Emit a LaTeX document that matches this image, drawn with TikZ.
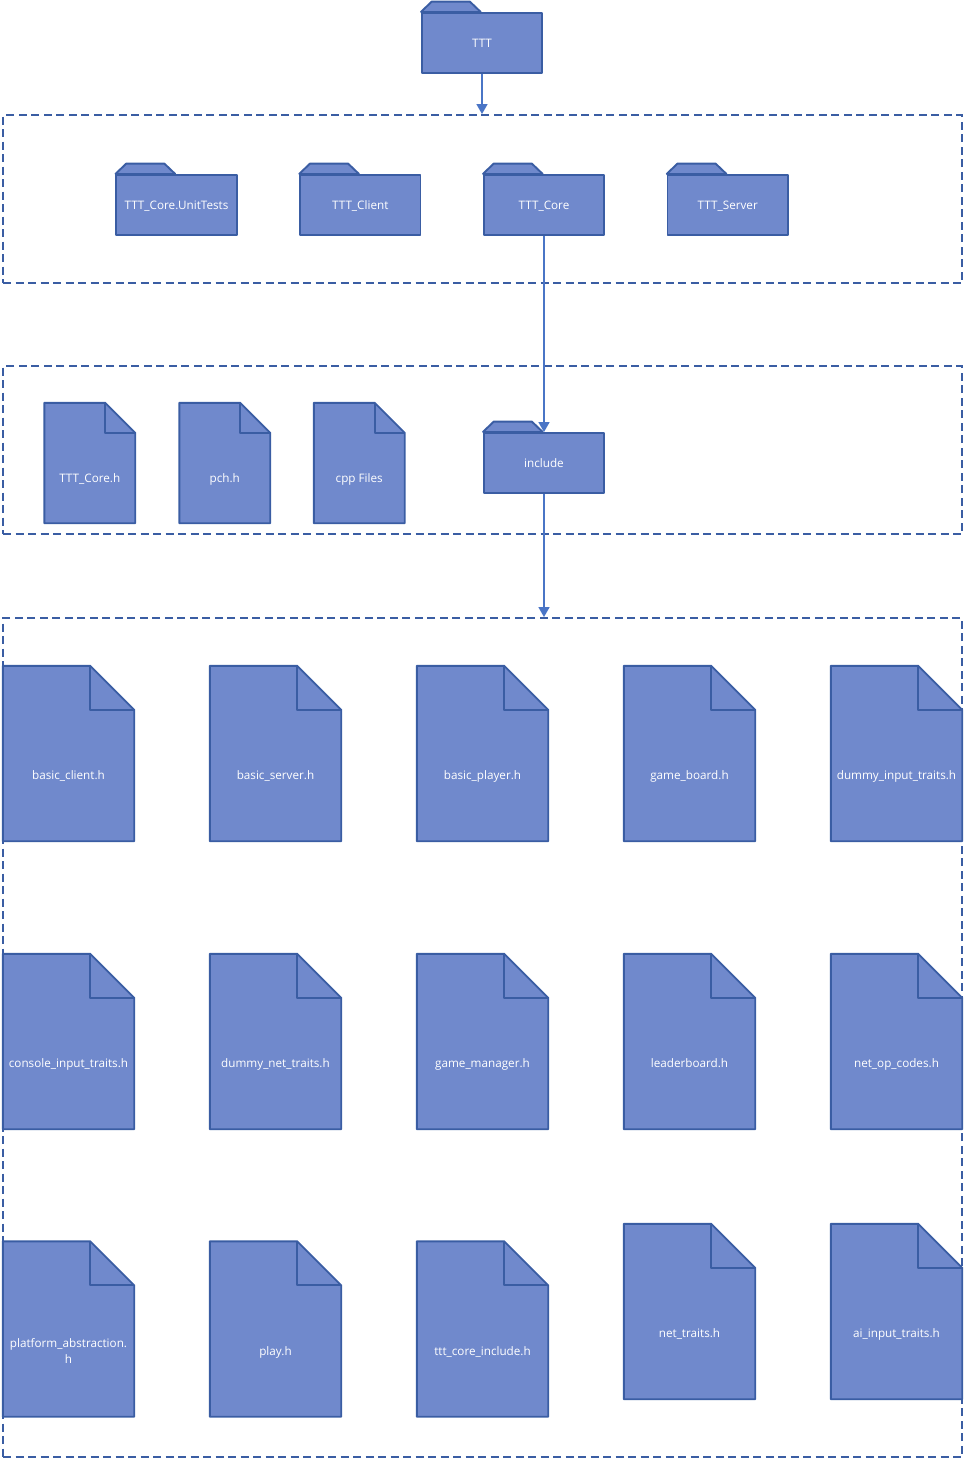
\documentclass[tikz,border=0pt]{standalone}
\usepackage{fontspec}
\setmainfont{Open Sans}
\usepackage{xcolor}
\usepackage{tikz}
\usetikzlibrary{arrows.meta, calc, backgrounds}

\definecolor{shapefill}{HTML}{7089CC}
\definecolor{shapeline}{HTML}{3A5DA3}
\definecolor{arrowline}{HTML}{4A75C6}

\begin{document}
\begin{tikzpicture}[
  x=1pt, y=-1pt,
  outline/.style={draw=shapeline, line width=1.9pt, line join=bevel},
  label text/.style={font=\fontsize{11.7}{16}\selectfont, text=white, align=center, inner sep=0pt,
    text height=9.5pt, text depth=1.5pt},
  layer/.style={draw=shapeline, line width=1.9pt, dash pattern=on 8pt off 4.5pt, minimum width=959pt, inner sep=0pt},
  folder/.style={outline, fill=shapefill, label text, minimum width=120.5pt, minimum height=60pt,
    append after command={\pgfextra{
      \draw[outline, fill=shapefill] (\tikzlastnode.north west) -- ++(11,-10.5) -- ++(38,0) -- ++(11,10.5) -- cycle;
    }}},
  srcfile/.style={label text,
    append after command={\pgfextra{\begin{pgfonlayer}{background}
      \draw[outline, fill=shapefill]
        ($(\tikzlastnode.north west)+(0,-#1)$) -- ($(\tikzlastnode.north east)+(-#1,-#1)$)
        -- (\tikzlastnode.north east) -- (\tikzlastnode.south east) -- (\tikzlastnode.south west) -- cycle;
      \draw[outline] ($(\tikzlastnode.north east)+(-#1,-#1)$) -- ($(\tikzlastnode.north east)+(-#1,0)$)
        -- (\tikzlastnode.north east);
    \end{pgfonlayer}}}},
  smallfile/.style={srcfile=30, minimum width=90.5pt, minimum height=90pt},
  bigfile/.style={srcfile=44, minimum width=131pt, minimum height=131pt},
  arrow/.style={-{Triangle[length=10pt, width=11pt]}, draw=arrowline, fill=arrowline, line width=1.6pt}
]
  \useasboundingbox (0,0) rectangle (964,1459);

  %--- Dashed layers ---
  \begin{scope}[on background layer]
    \node[layer, minimum height=168pt] (topLayer) at (482.5, 199) {};
    \node[layer, minimum height=168pt] (coreLayer) at (482.5, 450) {};
    \node[layer, minimum height=839pt] (includeLayer) at (482.5, 1037.5) {};
  \end{scope}

  %--- Folders ---
  \node[folder] (ttt) at (482, 43) {TTT};

  \node[folder] (unitTests) at (176.5, 205) {TTT\_Core.UnitTests};
  \node[folder] (client) at (360.25, 205) {TTT\_Client};
  \node[folder] (core) at (544, 205) {TTT\_Core};
  \node[folder] (server) at (727.75, 205) {TTT\_Server};

  \node[folder] (include) at (544, 463) {include};

  %--- Files in TTT_Core ---
  \node[smallfile] (coreHeader) at (89.75, 478) {TTT\_Core.h};
  \node[smallfile] (pch) at (224.75, 478) {pch.h};
  \node[smallfile] (cpp) at (359.25, 478) {cpp Files};

  %--- Files in include, first row ---
  \node[bigfile] (basicClient) at (68.5, 775.5) {basic\_client.h};
  \node[bigfile] (basicServer) at (275.5, 775.5) {basic\_server.h};
  \node[bigfile] (basicPlayer) at (482.5, 775.5) {basic\_player.h};
  \node[bigfile] (gameBoard) at (689.5, 775.5) {game\_board.h};
  \node[bigfile] (dummyInput) at (896.5, 775.5) {dummy\_input\_traits.h};

  %--- Second row ---
  \node[bigfile] (consoleInput) at (68.5, 1063.5) {console\_input\_traits.h};
  \node[bigfile] (dummyNet) at (275.5, 1063.5) {dummy\_net\_traits.h};
  \node[bigfile] (gameManager) at (482.5, 1063.5) {game\_manager.h};
  \node[bigfile] (leaderboard) at (689.5, 1063.5) {leaderboard.h};
  \node[bigfile] (netOpCodes) at (896.5, 1063.5) {net\_op\_codes.h};

  %--- Third row ---
  \node[bigfile, text height=25.5pt] (platform) at (68.5, 1351) {platform\_abstraction.\\h};
  \node[bigfile] (play) at (275.5, 1351) {play.h};
  \node[bigfile] (coreInclude) at (482.5, 1351) {ttt\_core\_include.h};
  \node[bigfile] (netTraits) at (689.5, 1333.5) {net\_traits.h};
  \node[bigfile] (aiInput) at (896.5, 1333.5) {ai\_input\_traits.h};

  % Arrows
  \draw[arrow] (ttt.south) -- (ttt.south |- topLayer.north);
  \draw[arrow] (core.south) -- (include.north);
  \draw[arrow] (include.south) -- (include.south |- includeLayer.north);

\end{tikzpicture}
\end{document}
